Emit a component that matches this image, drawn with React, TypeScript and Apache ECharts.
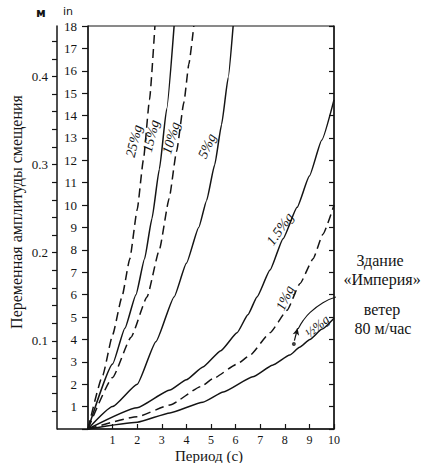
import React, { useEffect, useRef } from "react";
import * as echarts from "echarts";

// Displacement amplitude (inches) vs period (s)
const curve25 = [[0, 0], [0.6, 2.4], [1.0, 4.2], [1.38, 5.9], [1.7, 7.6], [2.0, 9.8], [2.25, 12.0], [2.5, 14.7], [2.72, 18]];
const curve15 = [[0, 0], [1.0, 2.9], [1.5, 4.5], [1.95, 6.0], [2.3, 7.6], [2.6, 9.4], [2.9, 11.6], [3.2, 14.3], [3.5, 18]];
const curve10 = [[0, 0], [1.0, 2.3], [1.75, 4.1], [2.4, 5.9], [2.9, 8.0], [3.3, 10.3], [3.6, 12.4], [3.9, 14.6], [4.1, 16.3], [4.3, 18]];
const curve5 = [[0, 0], [1.0, 1.0], [2.0, 2.0], [2.76, 3.9], [3.5, 5.9], [4.0, 7.4], [4.5, 9.0], [4.82, 10.2], [5.15, 11.8], [5.43, 13.6], [5.7, 15.7], [5.9, 18]];
const curve15b = [[0, 0], [2.0, 0.95], [3.33, 1.74], [4.0, 2.2], [4.67, 2.77], [5.4, 3.5], [6.06, 4.3], [6.5, 5.1], [6.87, 5.9], [7.4, 7.1], [7.93, 8.5], [8.5, 9.9], [9.0, 11.3], [9.5, 12.9], [10, 14.7]];
const curve1 = [[0, 0], [2.0, 0.55], [3.33, 1.07], [4.6, 1.9], [5.08, 2.25], [6.06, 2.9], [6.59, 3.3], [7.4, 4.3], [8.09, 5.3], [8.62, 6.5], [9.15, 7.6], [9.55, 8.7], [10, 10.0]];
const curveHalf = [[0, 0], [2.0, 0.3], [3.33, 0.72], [4.67, 1.2], [5.5, 1.65], [6.7, 2.33], [7.5, 2.85], [8.2, 3.3], [8.6, 3.65], [9.02, 4.0], [9.5, 4.45], [10, 4.95]];

// Empire State building annotation
const empirePoint = [[8.37, 3.8]];
const empireArrow = [[8.39, 3.95], [8.52, 4.5]];
const empireLeader = [[8.54, 4.47], [8.75, 4.85], [9.02, 5.2], [9.55, 5.64], [10.1, 5.9], [10.9, 6.03]];

// Axis ticks
const meterTicks = [0.02, 0.04, 0.06, 0.08, 0.1, 0.12, 0.14, 0.16, 0.18, 0.2, 0.22, 0.24, 0.26, 0.28, 0.3, 0.32, 0.34, 0.36, 0.38, 0.4, 0.42, 0.44];
const meterLabels = [0.1, 0.2, 0.3, 0.4];
const inchMax = 18;
const periodMax = 10;
const IN_TO_M = 0.0254;

const curveLabels = ["25%g", "15%g", "10%g", "5%g", "1.5%g", "1%g", "½%g"];

export default function App() {
  const ref = useRef<HTMLDivElement>(null);

  useEffect(() => {
    if (!ref.current) return;
    const chart = echarts.init(ref.current, null, { renderer: "svg" });
    const serif = '"Liberation Serif", "DejaVu Serif", serif';
    const ink = "#141414";
    const solid = { color: ink, width: 1.5, type: "solid" as const };
    const dashed = { color: ink, width: 1.5, type: [9, 5] };
    const mk = (name: string, data: number[][], ls: any) => ({
      name,
      type: "line",
      data,
      symbol: "none",
      lineStyle: ls,
      smooth: 0.15,
      smoothMonotone: "x",
      clip: false,
      silent: true,
      z: 3,
    });

    const deg = (d: number) => (d * Math.PI) / 180;
    const lbl = (text: string, x: number, y: number, rot: number, size = 14) => ({
      type: "text",
      x,
      y,
      rotation: deg(rot),
      style: {
        text,
        fill: ink,
        font: `italic ${size}px ${serif}`,
        align: "center",
        verticalAlign: "middle",
      },
      silent: true,
    });
    const txt = (text: string, x: number, y: number, size: number, font = serif, weight = "normal") => ({
      type: "text",
      x,
      y,
      style: {
        text,
        fill: ink,
        font: `${weight} ${size}px ${font}`,
        align: "center",
        verticalAlign: "middle",
      },
      silent: true,
    });

    chart.setOption({
      animation: false,
      backgroundColor: "#ffffff",
      grid: {
        left: 88,
        right: 91,
        top: 26,
        bottom: 34,
        show: true,
        borderColor: ink,
        borderWidth: 1,
        containLabel: false,
      },
      xAxis: {
        type: "value",
        min: 0,
        max: periodMax,
        interval: 1,
        axisLine: { show: true, lineStyle: { color: ink, width: 1.5 } },
        axisTick: { show: true, inside: true, length: 5, lineStyle: { color: ink, width: 1.2 } },
        axisLabel: {
          formatter: (v: number) => (v === 0 ? "" : String(v)),
          color: ink,
          fontFamily: serif,
          fontSize: 12,
          margin: 5,
        },
        splitLine: { show: false },
      },
      yAxis: [
        {
          type: "value",
          position: "left",
          min: 0,
          max: inchMax,
          interval: 1,
          axisLine: { show: true, lineStyle: { color: ink, width: 1.5 } },
          axisTick: { show: true, inside: false, length: 6, lineStyle: { color: ink, width: 1.2 } },
          axisLabel: {
            formatter: (v: number) => (v === 0 ? "" : String(v)),
            color: ink,
            fontFamily: serif,
            fontSize: 13,
            margin: 11,
          },
          splitLine: { show: false },
        },
        {
          type: "value",
          position: "left",
          offset: 31,
          min: 0,
          max: inchMax * IN_TO_M,
          axisLine: { show: true, onZero: false, lineStyle: { color: ink, width: 1.5 } },
          axisTick: { show: true, inside: false, length: 5, customValues: meterTicks, lineStyle: { color: ink, width: 1.2 } },
          axisLabel: {
            customValues: meterLabels,
            formatter: (v: number) => v.toFixed(1),
            color: ink,
            fontFamily: serif,
            fontSize: 13,
            margin: 9,
          },
          splitLine: { show: false },
        },
        {
          type: "value",
          position: "right",
          min: 0,
          max: inchMax,
          interval: 1,
          axisLine: { show: true, lineStyle: { color: ink, width: 1.5 } },
          axisTick: { show: true, inside: true, length: 5, lineStyle: { color: ink, width: 1.2 } },
          axisLabel: { show: false },
          splitLine: { show: false },
        },
      ],
      series: [
        mk(curveLabels[0], curve25, dashed),
        mk(curveLabels[1], curve15, solid),
        mk(curveLabels[2], curve10, dashed),
        mk(curveLabels[3], curve5, solid),
        mk(curveLabels[4], curve15b, solid),
        mk(curveLabels[5], curve1, dashed),
        mk(curveLabels[6], curveHalf, solid),
        {
          type: "line",
          data: empireLeader,
          symbol: "none",
          smooth: 0.4,
          clip: false,
          silent: true,
          lineStyle: { color: ink, width: 1.1 },
        },
        {
          type: "line",
          data: empireArrow,
          symbol: (_v: any, p: any) => (p.dataIndex === 1 ? "arrow" : "none"),
          symbolSize: [5, 7],
          symbolRotate: -14,
          itemStyle: { color: ink },
          clip: false,
          silent: true,
          lineStyle: { color: ink, width: 1.2 },
        },
        {
          type: "scatter",
          data: empirePoint,
          symbol: "circle",
          symbolSize: 4,
          itemStyle: { color: ink },
          silent: true,
          clip: false,
        },
      ],
      graphic: [
        { type: "line", shape: { x1: 57, y1: 429, x2: 88, y2: 429 }, style: { stroke: ink, lineWidth: 1.5 }, silent: true },
        txt("м", 41, 13, 12, '"DejaVu Sans", sans-serif', "bold"),
        txt("in", 68, 11, 11, '"DejaVu Sans", sans-serif', "normal"),
        txt("Период (с)", 209, 456, 15),
        {
          type: "text",
          x: 16,
          y: 212,
          rotation: Math.PI / 2,
          style: {
            text: "Переменная амплитуды смещения",
            fill: ink,
            font: `normal 16px ${serif}`,
            align: "center",
            verticalAlign: "middle",
          },
          silent: true,
        },
        lbl(curveLabels[0], 134, 141, 76),
        lbl(curveLabels[1], 151, 136, 76),
        lbl(curveLabels[2], 171, 138, 74),
        lbl(curveLabels[3], 207, 146, 66),
        lbl(curveLabels[4], 280, 229, 55),
        lbl(curveLabels[5], 285, 298, 66),
        lbl(curveLabels[6], 317, 326, 40, 13),
        txt("Здание", 380, 260, 16),
        txt("«Империя»", 382, 279, 16),
        txt("ветер", 382, 309, 16),
        txt("80 м/час", 383, 328, 16),
      ],
    });

    return () => chart.dispose();
  }, []);

  return (
    <div
      ref={ref}
      style={{ position: "absolute", left: 0, top: 0, width: 425, height: 463, background: "#fff" }}
    />
  );
}
